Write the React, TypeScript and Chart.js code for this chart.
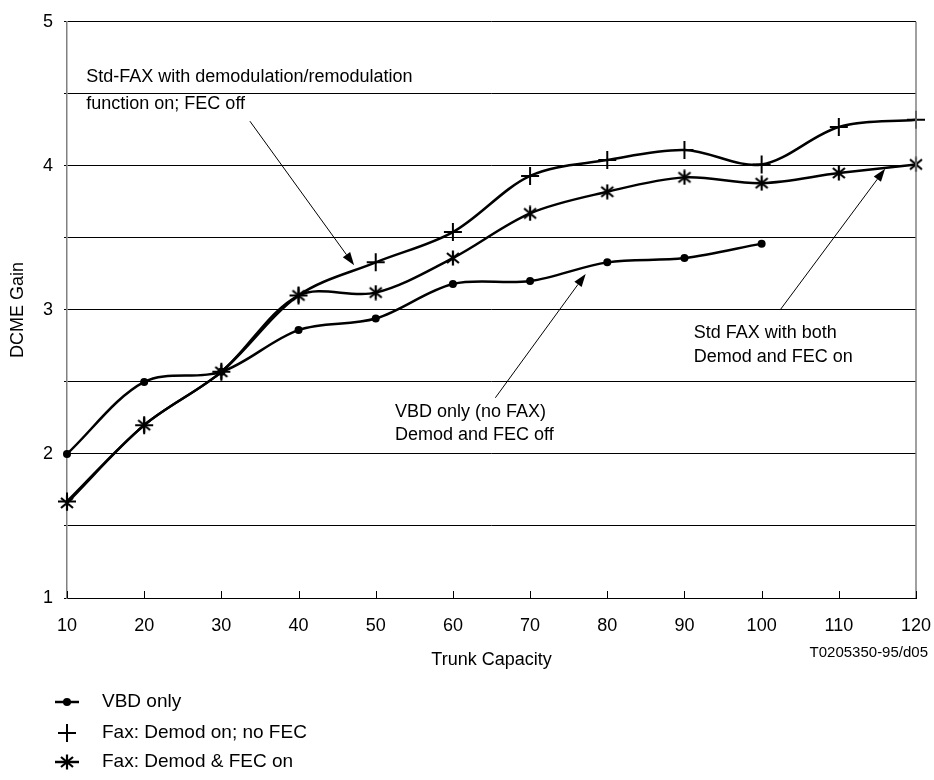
import React, { useEffect, useRef } from 'react';
import { Chart, registerables } from 'chart.js';

Chart.register(...registerables);

const FONT = "'Liberation Sans', Arial, sans-serif";

const trunkCapacity = [10, 20, 30, 40, 50, 60, 70, 80, 90, 100, 110, 120];
const vbdOnly = [2.0, 2.5, 2.57, 2.86, 2.94, 3.18, 3.2, 3.33, 3.36, 3.46];
const faxDemodNoFec = [1.67, 2.2, 2.57, 3.1, 3.33, 3.54, 3.93, 4.04, 4.11, 4.01, 4.27, 4.32];
const faxDemodFec = [1.66, 2.2, 2.57, 3.1, 3.12, 3.36, 3.67, 3.82, 3.92, 3.88, 3.95, 4.01];

const seriesLabels = ['VBD only', 'Fax: Demod on; no FEC', 'Fax: Demod & FEC on'];
const xTitle = 'Trunk Capacity';
const yTitle = 'DCME Gain';
const figureCode = 'T0205350-95/d05';

// annotation text lines, anchored in data coordinates
const noteTexts = [
  ['Std-FAX with demodulation/remodulation', 'function on; FEC off'],
  ['VBD only (no FAX)', 'Demod and FEC off'],
  ['Std FAX with both', 'Demod and FEC on'],
];
const noteTextX = [12.5, 52.5, 91.2];
const noteTextY = [[4.62, 4.43], [2.29, 2.13], [2.84, 2.67]];
const arrowFrom = [[33.7, 4.31], [65.5, 2.39], [102.4, 3.0]];
const arrowTo = [[47.2, 3.31], [77.2, 3.25], [116.0, 3.98]];

function makeStar(): HTMLCanvasElement {
  const c = document.createElement('canvas');
  c.width = 16;
  c.height = 16;
  const g = c.getContext('2d')!;
  g.strokeStyle = '#000';
  g.lineWidth = 2.2;
  g.beginPath();
  g.moveTo(2, 3);
  g.lineTo(14, 13);
  g.moveTo(14, 3);
  g.lineTo(2, 13);
  g.moveTo(8, 0.5);
  g.lineTo(8, 15.5);
  g.stroke();
  return c;
}

export default function App() {
  const ref = useRef<HTMLCanvasElement>(null);

  useEffect(() => {
    const canvas = ref.current!;
    const star = makeStar();

    const toXY = (xs: number[], ys: number[]) => ys.map((y, i) => ({ x: xs[i], y }));

    const overlay = {
      id: 'overlay',
      afterDatasetsDraw(chart: any) {
        const { ctx, scales } = chart;
        const xs = scales.x;
        const ys = scales.y;
        ctx.save();
        ctx.strokeStyle = '#000';
        ctx.fillStyle = '#000';
        ctx.lineWidth = 1;
        for (let i = 0; i < arrowFrom.length; i++) {
          const x1 = xs.getPixelForValue(arrowFrom[i][0]);
          const y1 = ys.getPixelForValue(arrowFrom[i][1]);
          const x2 = xs.getPixelForValue(arrowTo[i][0]);
          const y2 = ys.getPixelForValue(arrowTo[i][1]);
          const ang = Math.atan2(y2 - y1, x2 - x1);
          const hl = 13;
          const hw = 4.5;
          const bx = x2 - hl * Math.cos(ang);
          const by = y2 - hl * Math.sin(ang);
          ctx.beginPath();
          ctx.moveTo(x1, y1);
          ctx.lineTo(bx, by);
          ctx.stroke();
          ctx.beginPath();
          ctx.moveTo(x2, y2);
          ctx.lineTo(bx + hw * Math.sin(ang), by - hw * Math.cos(ang));
          ctx.lineTo(bx - hw * Math.sin(ang), by + hw * Math.cos(ang));
          ctx.closePath();
          ctx.fill();
        }
        ctx.font = `18px ${FONT}`;
        ctx.textAlign = 'left';
        ctx.textBaseline = 'middle';
        for (let i = 0; i < noteTexts.length; i++) {
          const x = xs.getPixelForValue(noteTextX[i]);
          noteTexts[i].forEach((t, j) => {
            ctx.fillText(t, x, ys.getPixelForValue(noteTextY[i][j]));
          });
        }
        ctx.restore();
      },
      afterDraw(chart: any) {
        const { ctx, scales, chartArea } = chart;
        const xs = scales.x;
        ctx.save();
        ctx.strokeStyle = '#808080';
        ctx.lineWidth = 1.5;
        ctx.beginPath();
        ctx.moveTo(chartArea.right, chartArea.top);
        ctx.lineTo(chartArea.right, chartArea.bottom);
        ctx.stroke();
        ctx.strokeStyle = '#000';
        ctx.lineWidth = 1;
        trunkCapacity.forEach((v) => {
          const px = Math.round(xs.getPixelForValue(v)) + 0.5;
          ctx.beginPath();
          ctx.moveTo(px, chartArea.bottom);
          ctx.lineTo(px, chartArea.bottom - 7);
          ctx.stroke();
        });
        ctx.fillStyle = '#000';
        ctx.font = `15px ${FONT}`;
        ctx.textAlign = 'right';
        ctx.textBaseline = 'middle';
        ctx.fillText(figureCode, 928, 653);
        const rows = [702, 733, 762];
        const mx = 67;
        ctx.font = `19px ${FONT}`;
        ctx.textAlign = 'left';
        rows.forEach((ry, i) => {
          ctx.strokeStyle = '#000';
          ctx.fillStyle = '#000';
          if (i === 0) {
            ctx.lineWidth = 2.5;
            ctx.beginPath();
            ctx.moveTo(mx - 12, ry);
            ctx.lineTo(mx + 12, ry);
            ctx.stroke();
            ctx.beginPath();
            ctx.arc(mx, ry, 4, 0, Math.PI * 2);
            ctx.fill();
          } else if (i === 1) {
            ctx.lineWidth = 2;
            ctx.beginPath();
            ctx.moveTo(mx - 9, ry);
            ctx.lineTo(mx + 9, ry);
            ctx.moveTo(mx, ry - 9);
            ctx.lineTo(mx, ry + 9);
            ctx.stroke();
          } else {
            ctx.lineWidth = 2.5;
            ctx.beginPath();
            ctx.moveTo(mx - 12, ry);
            ctx.lineTo(mx + 12, ry);
            ctx.stroke();
            ctx.drawImage(star, mx - 8, ry - 8);
          }
          ctx.fillText(seriesLabels[i], 102, ry);
        });
        ctx.restore();
      },
    };

    const chart = new Chart(canvas, {
      type: 'line',
      data: {
        datasets: [
          {
            label: seriesLabels[0],
            data: toXY(trunkCapacity, vbdOnly),
            borderColor: '#000',
            backgroundColor: '#000',
            borderWidth: 2.5,
            pointStyle: 'circle',
            pointRadius: 4,
            pointBackgroundColor: '#000',
            pointBorderWidth: 0,
            tension: 0.33,
            clip: 12,
          },
          {
            label: seriesLabels[1],
            data: toXY(trunkCapacity, faxDemodNoFec),
            borderColor: '#000',
            backgroundColor: '#000',
            borderWidth: 2.5,
            pointStyle: 'cross',
            pointRadius: 9,
            pointBorderWidth: 2,
            pointBorderColor: '#000',
            tension: 0.33,
            clip: 12,
          },
          {
            label: seriesLabels[2],
            data: toXY(trunkCapacity, faxDemodFec),
            borderColor: '#000',
            backgroundColor: '#000',
            borderWidth: 2.5,
            pointStyle: star as any,
            pointRadius: 8,
            tension: 0.33,
            clip: 12,
          },
        ],
      },
      options: {
        responsive: false,
        animation: false,
        events: [],
        layout: { padding: { top: 20, right: 18, left: 0, bottom: 0 } },
        plugins: {
          legend: { display: false },
          tooltip: { enabled: false },
        },
        scales: {
          x: {
            type: 'linear',
            min: 10,
            max: 120,
            afterFit: (s: any) => {
              s.height = 182;
            },
            ticks: {
              stepSize: 10,
              autoSkip: false,
              maxRotation: 0,
              padding: 0,
              color: '#000',
              font: { family: FONT, size: 18 },
            },
            grid: {
              display: true,
              drawOnChartArea: false,
              drawTicks: true,
              tickLength: 17,
              color: 'rgba(0,0,0,0)',
            },
            border: { display: true, color: '#000', width: 1 },
            title: {
              display: true,
              text: xTitle,
              color: '#000',
              font: { family: FONT, size: 18 },
              padding: { top: 0, bottom: 109 },
            },
          },
          y: {
            type: 'linear',
            min: 1,
            max: 5,
            afterFit: (s: any) => {
              s.width = 67;
            },
            ticks: {
              stepSize: 0.5,
              autoSkip: false,
              padding: 11,
              color: '#000',
              font: { family: FONT, size: 18 },
              callback: (v: any) => (Number.isInteger(v) ? String(v) : ''),
            },
            grid: { color: '#000', lineWidth: 1, drawTicks: true, tickLength: 3 },
            border: { display: true, color: '#808080', width: 1.5 },
            title: {
              display: true,
              text: yTitle,
              color: '#000',
              font: { family: FONT, size: 18 },
              padding: { top: 7, bottom: 0 },
            },
          },
        },
      },
      plugins: [overlay],
    });

    return () => chart.destroy();
  }, []);

  return (
    <div style={{ position: 'absolute', left: 0, top: 0, width: 934, height: 780, background: '#fff' }}>
      <canvas ref={ref} width={934} height={780} style={{ display: 'block' }} />
    </div>
  );
}
